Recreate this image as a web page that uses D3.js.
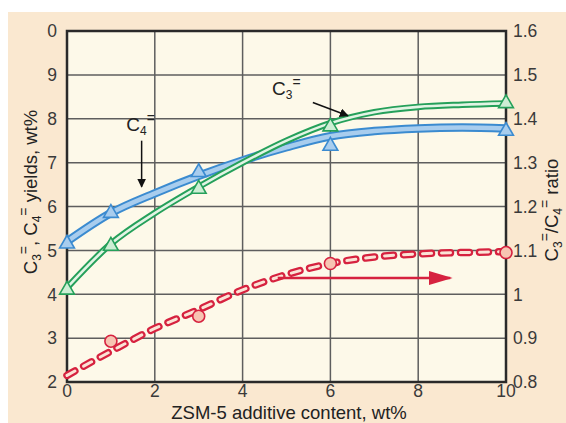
<!DOCTYPE html>
<html lang="en">
<head>
<meta charset="UTF-8">
<title>ZSM-5 additive yields</title>
<script src="https://cdn.jsdelivr.net/npm/d3@7"></script>
<style>
    body { margin: 0; background: #fff; }
    svg { display: block; }
</style>
</head>
<body>
<svg id="chart" width="566" height="423"></svg>
<script>
// x values and curve readings
const curveX = [0, 1, 2, 3, 4, 5, 6, 7, 8, 9, 10];
const c4Curve = [5.2, 5.85, 6.3, 6.7, 7.05, 7.35, 7.6, 7.72, 7.78, 7.8, 7.78];
const c3Curve = [4.15, 5.15, 5.85, 6.45, 7.0, 7.5, 7.9, 8.15, 8.27, 8.32, 8.35];
const ratioCurve = [0.815, 0.87, 0.922, 0.965, 1.01, 1.045, 1.07, 1.085, 1.092, 1.095, 1.097];

// measured points
const pointX = [0, 1, 3, 6, 10];
const c4Points = [5.15, 5.85, 6.78, 7.38, 7.72];
const c3Points = [4.1, 5.1, 6.4, 7.82, 8.35];
const ratioX = [1, 3, 6, 10];
const ratioPoints = [0.893, 0.95, 1.07, 1.095];

// ticks
const xTicks = [0, 2, 4, 6, 8, 10];
const leftTicks = [2, 3, 4, 5, 6, 7, 8, 9, 10];
const leftTickLabels = ["2", "3", "4", "5", "6", "7", "8", "9", "0"];
const rightTicks = [0.8, 0.9, 1.0, 1.1, 1.2, 1.3, 1.4, 1.5, 1.6];
const rightTickLabels = ["0.8", "0.9", "1", "1.1", "1.2", "1.3", "1.4", "1.5", "1.6"];

const FONT = "'Liberation Sans', Arial, sans-serif";
const svg = d3.select("#chart").attr("font-family", FONT);
const plot = { left: 67, top: 31, right: 506, bottom: 382 };

const x = d3.scaleLinear().domain([0, 10]).range([plot.left, plot.right]);
const yL = d3.scaleLinear().domain([2, 10]).range([plot.bottom, plot.top]);
const yR = d3.scaleLinear().domain([0.8, 1.6]).range([plot.bottom, plot.top]);

// beige background
svg.append("rect").attr("x", 8).attr("y", 12).attr("width", 558).attr("height", 411).attr("fill", "#fae8d0");
svg.append("rect")
    .attr("x", plot.left).attr("y", plot.top)
    .attr("width", plot.right - plot.left).attr("height", plot.bottom - plot.top)
    .attr("fill", "#fdf9e9");

// grid
const grid = svg.append("g").attr("stroke", "#5e5e5e").attr("stroke-width", 1.5);
grid.selectAll(".vg").data(xTicks.slice(1, -1)).enter().append("line")
    .attr("x1", d => x(d)).attr("x2", d => x(d))
    .attr("y1", plot.top).attr("y2", plot.bottom);
grid.selectAll(".hg").data(leftTicks.slice(1, -1)).enter().append("line")
    .attr("x1", plot.left).attr("x2", plot.right)
    .attr("y1", d => yL(d)).attr("y2", d => yL(d));

// frame
svg.append("rect")
    .attr("x", plot.left).attr("y", plot.top)
    .attr("width", plot.right - plot.left).attr("height", plot.bottom - plot.top)
    .attr("fill", "none").attr("stroke", "#2a2a2a").attr("stroke-width", 2.5);

// tick labels
function tickText(sel) {
    sel.attr("font-size", 17.5).attr("fill", "#3a3a3a");
}
svg.selectAll(".lt").data(leftTicks).enter().append("text")
    .call(tickText)
    .attr("x", plot.left - 10).attr("y", d => yL(d)).attr("dy", "0.36em")
    .attr("text-anchor", "end")
    .text((d, i) => leftTickLabels[i]);
svg.selectAll(".rt").data(rightTicks).enter().append("text")
    .call(tickText)
    .attr("x", plot.right + 7).attr("y", d => yR(d)).attr("dy", "0.36em")
    .attr("text-anchor", "start")
    .text((d, i) => rightTickLabels[i]);
svg.selectAll(".xt").data(xTicks).enter().append("text")
    .call(tickText)
    .attr("x", d => x(d)).attr("y", plot.bottom + 15)
    .attr("text-anchor", "middle")
    .text(d => d);

// axis titles
svg.append("text").attr("font-size", 18.5).attr("fill", "#222")
    .attr("x", 289).attr("y", 419).attr("text-anchor", "middle")
    .text("ZSM-5 additive content, wt%");

function chemLabel(sel, parts) {
    parts.forEach(p => {
        const t = sel.append("tspan").text(p.t);
        if (p.sub) t.attr("font-size", 12).attr("dy", "4");
        if (p.sup) t.attr("font-size", 14).attr("dy", "-12");
        if (p.back) t.attr("dy", p.back);
    });
}

const leftTitle = svg.append("text").attr("font-size", 18.5).attr("fill", "#222")
    .attr("transform", "translate(37,192) rotate(-90)").attr("text-anchor", "middle");
chemLabel(leftTitle, [
    { t: "C" }, { t: "3", sub: true }, { t: "=", sup: true },
    { t: ", C", back: "8" }, { t: "4", sub: true }, { t: "=", sup: true },
    { t: " yields, wt%", back: "8" }
]);

const rightTitle = svg.append("text").attr("font-size", 18.5).attr("fill", "#222")
    .attr("transform", "translate(558,210) rotate(-90)").attr("text-anchor", "middle");
chemLabel(rightTitle, [
    { t: "C" }, { t: "3", sub: true }, { t: "=", sup: true },
    { t: "/C", back: "8" }, { t: "4", sub: true }, { t: "=", sup: true },
    { t: " ratio", back: "8" }
]);

// curves
const lineL = d3.line().x((d, i) => x(curveX[i])).y(d => yL(d)).curve(d3.curveMonotoneX);
const lineR = d3.line().x((d, i) => x(curveX[i])).y(d => yR(d)).curve(d3.curveMonotoneX);

// red dashed ratio curve (outlined capsules)
svg.append("path").attr("d", lineR(ratioCurve))
    .attr("fill", "none").attr("stroke", "#d6223f").attr("stroke-width", 7.5)
    .attr("stroke-linecap", "round").attr("stroke-dasharray", "9 10");
svg.append("path").attr("d", lineR(ratioCurve))
    .attr("fill", "none").attr("stroke", "#fbe3d6").attr("stroke-width", 3)
    .attr("stroke-linecap", "round").attr("stroke-dasharray", "9 10");

// C4 blue
svg.append("path").attr("d", lineL(c4Curve))
    .attr("fill", "none").attr("stroke", "#3b8bd0").attr("stroke-width", 8.5);
svg.append("path").attr("d", lineL(c4Curve))
    .attr("fill", "none").attr("stroke", "#a8cdee").attr("stroke-width", 4.5);

// C3 green
svg.append("path").attr("d", lineL(c3Curve))
    .attr("fill", "none").attr("stroke", "#25a05a").attr("stroke-width", 6.5);
svg.append("path").attr("d", lineL(c3Curve))
    .attr("fill", "none").attr("stroke", "#e2f4e4").attr("stroke-width", 2.6);

// markers
const tri = d3.symbol().type(d3.symbolTriangle).size(95);
svg.selectAll(".c4p").data(c4Points).enter().append("path")
    .attr("d", tri)
    .attr("transform", (d, i) => `translate(${x(pointX[i])},${yL(d)})`)
    .attr("fill", "#a8cdee").attr("stroke", "#3b8bd0").attr("stroke-width", 1.6);
svg.selectAll(".c3p").data(c3Points).enter().append("path")
    .attr("d", tri)
    .attr("transform", (d, i) => `translate(${x(pointX[i])},${yL(d)})`)
    .attr("fill", "#cdeed4").attr("stroke", "#25a05a").attr("stroke-width", 1.6);
svg.selectAll(".rp").data(ratioPoints).enter().append("circle")
    .attr("cx", (d, i) => x(ratioX[i])).attr("cy", d => yR(d)).attr("r", 6)
    .attr("fill", "#f7c4b2").attr("stroke", "#d6223f").attr("stroke-width", 1.6);

// annotations
const defs = svg.append("defs");
defs.append("marker").attr("id", "blackHead").attr("viewBox", "0 0 10 10")
    .attr("refX", 9).attr("refY", 5).attr("markerWidth", 9).attr("markerHeight", 9)
    .attr("markerUnits", "userSpaceOnUse").attr("orient", "auto")
    .append("path").attr("d", "M0,0L10,5L0,10z").attr("fill", "#111");
defs.append("marker").attr("id", "redHead").attr("viewBox", "0 0 10 10")
    .attr("refX", 9).attr("refY", 5).attr("markerWidth", 24).attr("markerHeight", 14)
    .attr("markerUnits", "userSpaceOnUse").attr("orient", "auto")
    .attr("preserveAspectRatio", "none")
    .append("path").attr("d", "M0,0L10,5L0,10z").attr("fill", "#d6223f");

const c4Lab = svg.append("text").attr("font-size", 19).attr("fill", "#222")
    .attr("x", x(1.35)).attr("y", yL(7.72));
chemLabel(c4Lab, [{ t: "C" }, { t: "4", sub: true }, { t: "=", sup: true }]);
svg.append("line")
    .attr("x1", x(1.7)).attr("y1", yL(7.5)).attr("x2", x(1.7)).attr("y2", yL(6.45))
    .attr("stroke", "#111").attr("stroke-width", 1.5).attr("marker-end", "url(#blackHead)");

const c3Lab = svg.append("text").attr("font-size", 19).attr("fill", "#222")
    .attr("x", x(4.67)).attr("y", yL(8.55));
chemLabel(c3Lab, [{ t: "C" }, { t: "3", sub: true }, { t: "=", sup: true }]);
svg.append("line")
    .attr("x1", x(5.6)).attr("y1", yL(8.37)).attr("x2", x(6.4)).attr("y2", yL(8.07))
    .attr("stroke", "#111").attr("stroke-width", 1.5).attr("marker-end", "url(#blackHead)");

svg.append("line")
    .attr("x1", x(4.8)).attr("y1", yR(1.037)).attr("x2", x(8.73)).attr("y2", yR(1.037))
    .attr("stroke", "#d6223f").attr("stroke-width", 2.5).attr("marker-end", "url(#redHead)");
</script>
</body>
</html>
